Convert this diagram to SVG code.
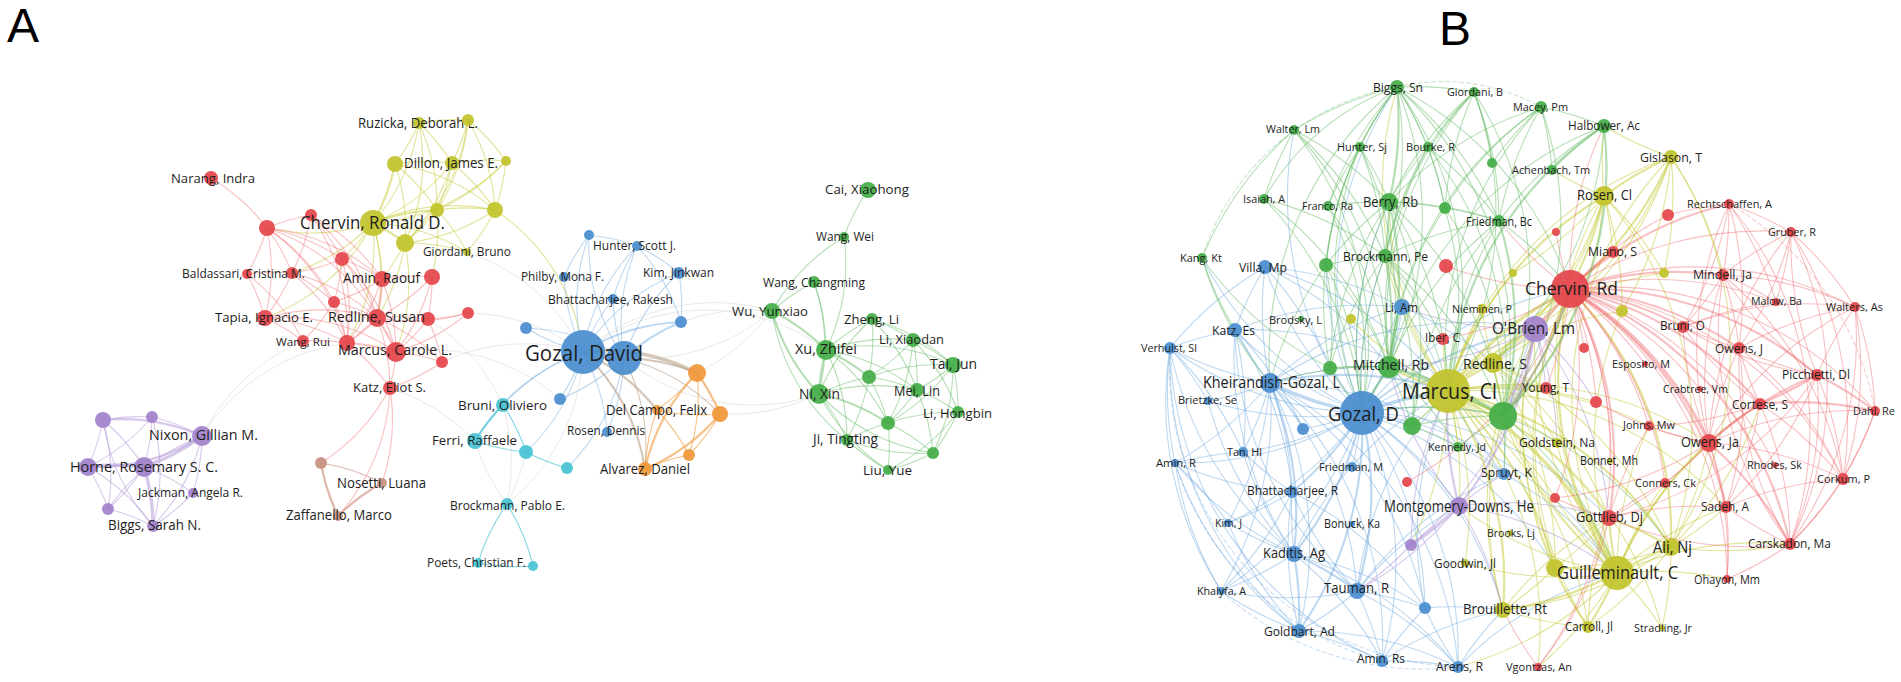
<svg xmlns="http://www.w3.org/2000/svg" width="1901" height="682" viewBox="0 0 1901 682">
<style>
path{fill:none;stroke-width:1.1;stroke-linecap:round}
.y{stroke:#c6ca34;stroke-opacity:.5}
.r{stroke:#ef6a6d;stroke-opacity:.42}
.p{stroke:#b093d6;stroke-opacity:.5}
.s{stroke:#cf9a88;stroke-opacity:.7}
.b{stroke:#64a3dc;stroke-opacity:.42}
.o{stroke:#f2a24c;stroke-opacity:.65}
.c{stroke:#4fc4d4;stroke-opacity:.7}
.g{stroke:#66ba66;stroke-opacity:.48}
.f{stroke:#c0c0c0;stroke-opacity:.45;stroke-width:.8}
.u{stroke:#b9a088;stroke-opacity:.6}
.w{stroke-width:2.2}
.x{stroke-width:3.4}
.d{stroke-dasharray:4 3;stroke-opacity:.35}
circle{fill-opacity:.93}
.ny{fill:#c2c42c}.nr{fill:#e4464b}.np{fill:#a282cc}.ns{fill:#c79282}.nb{fill:#4a8ecf}.no{fill:#f0983a}.nc{fill:#49c3d4}.ng{fill:#44ad46}
text{font-family:"Open Sans","Liberation Sans",Arial,sans-serif;fill:#1e1e1e}
.pl{font-family:"Liberation Sans",Arial,sans-serif;font-size:48px;fill:#000}
</style>
<rect width="1901" height="682" fill="#fff"/>
<text class="pl" x="7" y="42">A</text>
<text class="pl" x="1439" y="45">B</text>
<g id="connectors">
<g id="edges-a">
<path class="y" d="M419 123A200 200 0 0 1 468 120"/>
<path class="y" d="M419 123A200 200 0 0 1 395 164"/>
<path class="y" d="M419 123A200 200 0 0 1 452 163"/>
<path class="y" d="M419 123A200 200 0 0 1 373 223"/>
<path class="y" d="M419 123A200 200 0 0 1 437 210"/>
<path class="y" d="M419 123A200 200 0 0 1 405 243"/>
<path class="y" d="M468 120A200 200 0 0 1 452 163"/>
<path class="y" d="M468 120A200 200 0 0 1 506 161"/>
<path class="y" d="M468 120A200 200 0 0 1 437 210"/>
<path class="y" d="M468 120A200 200 0 0 1 495 210"/>
<path class="y" d="M468 120A200 200 0 0 1 405 243"/>
<path class="y" d="M395 164A200 200 0 0 1 452 163"/>
<path class="y w" d="M395 164A200 200 0 0 1 373 223"/>
<path class="y" d="M395 164A200 200 0 0 1 437 210"/>
<path class="y" d="M395 164A200 200 0 0 1 405 243"/>
<path class="y" d="M395 164A200 200 0 0 1 495 210"/>
<path class="y" d="M452 163A200 200 0 0 1 506 161"/>
<path class="y" d="M452 163A200 200 0 0 1 437 210"/>
<path class="y" d="M452 163A200 200 0 0 1 373 223"/>
<path class="y" d="M452 163A200 200 0 0 1 405 243"/>
<path class="y" d="M452 163A200 200 0 0 1 495 210"/>
<path class="y" d="M506 161A200 200 0 0 1 495 210"/>
<path class="y" d="M506 161A200 200 0 0 1 437 210"/>
<path class="y" d="M506 161A200 200 0 0 1 373 223"/>
<path class="y w" d="M373 223A200 200 0 0 1 437 210"/>
<path class="y w" d="M373 223A200 200 0 0 1 405 243"/>
<path class="y" d="M373 223A200 200 0 0 1 495 210"/>
<path class="y" d="M437 210A200 200 0 0 1 405 243"/>
<path class="y" d="M437 210A200 200 0 0 1 495 210"/>
<path class="y" d="M495 210A200 200 0 0 1 405 243"/>
<path class="y" d="M405 243A200 200 0 0 1 467 252"/>
<path class="y" d="M373 223A200 200 0 0 1 467 252"/>
<path class="y" d="M437 210A200 200 0 0 1 467 252"/>
<path class="y" d="M495 210A200 200 0 0 1 467 252"/>
<path class="y" d="M373 223A200 200 0 0 1 382 279"/>
<path class="y" d="M373 223A200 200 0 0 1 377 318"/>
<path class="y" d="M373 223A200 200 0 0 1 347 343"/>
<path class="y" d="M373 223A200 200 0 0 1 267 228"/>
<path class="y" d="M373 223A200 200 0 0 1 342 259"/>
<path class="y" d="M405 243A200 200 0 0 1 382 279"/>
<path class="y" d="M405 243A200 200 0 0 1 377 318"/>
<path class="y" d="M373 223A200 200 0 0 1 265 318"/>
<path class="y" d="M373 223A200 200 0 0 1 292 273"/>
<path class="y" d="M405 243A200 200 0 0 1 396 352"/>
<path class="y" d="M437 210A200 200 0 0 1 432 277"/>
<path class="y" d="M495 210A200 200 0 0 1 583 352"/>
<path class="f" d="M467 252A200 200 0 0 1 583 352"/>
<path class="r" d="M211 178A200 200 0 0 1 267 228"/>
<path class="r" d="M267 228A200 200 0 0 1 311 215"/>
<path class="r" d="M267 228A200 200 0 0 1 342 259"/>
<path class="r" d="M267 228A200 200 0 0 1 247 274"/>
<path class="r" d="M267 228A200 200 0 0 1 292 273"/>
<path class="r" d="M267 228A200 200 0 0 1 382 279"/>
<path class="r" d="M267 228A200 200 0 0 1 334 302"/>
<path class="r" d="M267 228A200 200 0 0 1 265 318"/>
<path class="r" d="M267 228A200 200 0 0 1 377 318"/>
<path class="r" d="M267 228A200 200 0 0 1 347 343"/>
<path class="r" d="M311 215A200 200 0 0 1 342 259"/>
<path class="r" d="M311 215A200 200 0 0 1 382 279"/>
<path class="r" d="M311 215A200 200 0 0 1 377 318"/>
<path class="r" d="M311 215A200 200 0 0 1 292 273"/>
<path class="r" d="M311 215A200 200 0 0 1 347 343"/>
<path class="r" d="M342 259A200 200 0 0 1 382 279"/>
<path class="r" d="M342 259A200 200 0 0 1 334 302"/>
<path class="r" d="M342 259A200 200 0 0 1 377 318"/>
<path class="r" d="M342 259A200 200 0 0 1 347 343"/>
<path class="r" d="M342 259A200 200 0 0 1 396 352"/>
<path class="r" d="M342 259A200 200 0 0 1 292 273"/>
<path class="r" d="M247 274A200 200 0 0 1 292 273"/>
<path class="r" d="M247 274A200 200 0 0 1 265 318"/>
<path class="r" d="M247 274A200 200 0 0 1 303 341"/>
<path class="r" d="M292 273A200 200 0 0 1 334 302"/>
<path class="r" d="M292 273A200 200 0 0 1 265 318"/>
<path class="r" d="M292 273A200 200 0 0 1 377 318"/>
<path class="r" d="M292 273A200 200 0 0 1 347 343"/>
<path class="r" d="M382 279A200 200 0 0 1 432 277"/>
<path class="r w" d="M382 279A200 200 0 0 1 377 318"/>
<path class="r" d="M382 279A200 200 0 0 1 347 343"/>
<path class="r" d="M382 279A200 200 0 0 1 396 352"/>
<path class="r" d="M382 279A200 200 0 0 1 334 302"/>
<path class="r" d="M432 277A200 200 0 0 1 428 319"/>
<path class="r" d="M432 277A200 200 0 0 1 377 318"/>
<path class="r" d="M432 277A200 200 0 0 1 396 352"/>
<path class="r" d="M334 302A200 200 0 0 1 377 318"/>
<path class="r" d="M334 302A200 200 0 0 1 347 343"/>
<path class="r" d="M334 302A200 200 0 0 1 303 341"/>
<path class="r" d="M265 318A200 200 0 0 1 377 318"/>
<path class="r" d="M265 318A200 200 0 0 1 303 341"/>
<path class="r" d="M265 318A200 200 0 0 1 347 343"/>
<path class="r" d="M265 318A200 200 0 0 1 396 352"/>
<path class="r" d="M377 318A200 200 0 0 1 428 319"/>
<path class="r w" d="M377 318A200 200 0 0 1 347 343"/>
<path class="r w" d="M377 318A200 200 0 0 1 396 352"/>
<path class="r" d="M377 318A200 200 0 0 1 442 362"/>
<path class="r" d="M377 318A200 200 0 0 1 390 388"/>
<path class="r" d="M428 319A200 200 0 0 1 396 352"/>
<path class="r" d="M428 319A200 200 0 0 1 442 362"/>
<path class="r" d="M468 313A200 200 0 0 1 396 352"/>
<path class="r" d="M468 313A200 200 0 0 1 377 318"/>
<path class="r" d="M468 313A200 200 0 0 1 428 319"/>
<path class="r" d="M303 341A200 200 0 0 1 347 343"/>
<path class="r w" d="M347 343A200 200 0 0 1 396 352"/>
<path class="r" d="M347 343A200 200 0 0 1 390 388"/>
<path class="r" d="M396 352A200 200 0 0 1 442 362"/>
<path class="r" d="M396 352A200 200 0 0 1 390 388"/>
<path class="r" d="M442 362A200 200 0 0 1 390 388"/>
<path class="r" d="M390 388A200 200 0 0 1 321 463"/>
<path class="r" d="M390 388A200 200 0 0 1 338 516"/>
<path class="r" d="M390 388A200 200 0 0 1 382 483"/>
<path class="f" d="M303 341A200 200 0 0 0 202 436"/>
<path class="f" d="M347 343A200 200 0 0 0 202 436"/>
<path class="f" d="M442 362A200 200 0 0 1 583 352"/>
<path class="f" d="M468 313A200 200 0 0 1 583 352"/>
<path class="f" d="M428 319A200 200 0 0 1 503 405"/>
<path class="f" d="M390 388A200 200 0 0 1 475 441"/>
<path class="f" d="M396 352A200 200 0 0 1 560 399"/>
<path class="p" d="M103 420A200 200 0 0 1 152 417"/>
<path class="p w" d="M103 420A200 200 0 0 1 202 436"/>
<path class="p" d="M103 420A200 200 0 0 1 88 467"/>
<path class="p" d="M103 420A200 200 0 0 1 144 467"/>
<path class="p" d="M103 420A200 200 0 0 1 108 509"/>
<path class="p" d="M152 417A200 200 0 0 1 202 436"/>
<path class="p" d="M152 417A200 200 0 0 1 144 467"/>
<path class="p" d="M152 417A200 200 0 0 1 88 467"/>
<path class="p w" d="M202 436A200 200 0 0 1 88 467"/>
<path class="p x" d="M202 436A200 200 0 0 1 144 467"/>
<path class="p" d="M202 436A200 200 0 0 1 193 493"/>
<path class="p" d="M202 436A200 200 0 0 1 153 526"/>
<path class="p x" d="M88 467A200 200 0 0 1 144 467"/>
<path class="p" d="M88 467A200 200 0 0 1 108 509"/>
<path class="p" d="M88 467A200 200 0 0 1 153 526"/>
<path class="p" d="M144 467A200 200 0 0 1 193 493"/>
<path class="p" d="M144 467A200 200 0 0 1 108 509"/>
<path class="p x" d="M144 467A200 200 0 0 1 153 526"/>
<path class="p" d="M193 493A200 200 0 0 1 153 526"/>
<path class="p" d="M108 509A200 200 0 0 1 153 526"/>
<path class="p" d="M152 417A200 200 0 0 1 153 526"/>
<path class="p" d="M103 420A200 200 0 0 0 153 526"/>
<path class="p" d="M108 509A200 200 0 0 1 202 436"/>
<path class="s w" d="M321 463A200 200 0 0 0 338 516"/>
<path class="s w" d="M338 516A200 200 0 0 1 382 483"/>
<path class="s" d="M321 463A200 200 0 0 1 382 483"/>
<path class="b" d="M583 352A200 200 0 0 1 589 235"/>
<path class="b" d="M583 352A200 200 0 0 1 637 246"/>
<path class="b" d="M583 352A200 200 0 0 1 679 273"/>
<path class="b" d="M583 352A200 200 0 0 1 564 277"/>
<path class="b" d="M583 352A200 200 0 0 1 613 299"/>
<path class="b" d="M583 352A200 200 0 0 1 526 328"/>
<path class="b w" d="M583 352A200 200 0 0 1 681 322"/>
<path class="b x" d="M583 352A200 200 0 0 1 624 358"/>
<path class="b" d="M583 352A200 200 0 0 1 560 399"/>
<path class="b" d="M583 352A200 200 0 0 1 607 432"/>
<path class="b" d="M624 358A200 200 0 0 1 589 235"/>
<path class="b" d="M624 358A200 200 0 0 1 637 246"/>
<path class="b" d="M624 358A200 200 0 0 1 679 273"/>
<path class="b w" d="M624 358A200 200 0 0 1 681 322"/>
<path class="b" d="M624 358A200 200 0 0 1 613 299"/>
<path class="b" d="M624 358A200 200 0 0 1 560 399"/>
<path class="b" d="M624 358A200 200 0 0 1 607 432"/>
<path class="b" d="M564 277A200 200 0 0 1 589 235"/>
<path class="b" d="M637 246A200 200 0 0 1 679 273"/>
<path class="b" d="M589 235A200 200 0 0 1 637 246"/>
<path class="b" d="M613 299A200 200 0 0 1 637 246"/>
<path class="b" d="M526 328A200 200 0 0 1 624 358"/>
<path class="b" d="M681 322A200 200 0 0 0 637 246"/>
<path class="b" d="M679 273A200 200 0 0 1 681 322"/>
<path class="b" d="M583 352A200 200 0 0 0 503 405"/>
<path class="b" d="M583 352A200 200 0 0 0 475 441"/>
<path class="b" d="M583 352A200 200 0 0 1 526 452"/>
<path class="b" d="M624 358A200 200 0 0 1 567 468"/>
<path class="f" d="M583 352A200 200 0 0 1 507 504"/>
<path class="u x" d="M583 352A200 200 0 0 1 697 373"/>
<path class="u w" d="M624 358A200 200 0 0 1 697 373"/>
<path class="u" d="M624 358A200 200 0 0 1 720 414"/>
<path class="u w" d="M583 352A200 200 0 0 1 657 410"/>
<path class="u w" d="M583 352A200 200 0 0 1 645 469"/>
<path class="u" d="M624 358A200 200 0 0 1 645 469"/>
<path class="o w" d="M697 373A200 200 0 0 1 720 414"/>
<path class="o" d="M697 373A200 200 0 0 1 657 410"/>
<path class="o w" d="M697 373A200 200 0 0 0 645 469"/>
<path class="o" d="M697 373A200 200 0 0 1 689 455"/>
<path class="o" d="M720 414A200 200 0 0 1 657 410"/>
<path class="o w" d="M720 414A200 200 0 0 1 645 469"/>
<path class="o" d="M720 414A200 200 0 0 1 689 455"/>
<path class="o" d="M657 410A200 200 0 0 0 645 469"/>
<path class="o" d="M657 410A200 200 0 0 1 689 455"/>
<path class="o" d="M645 469A200 200 0 0 1 689 455"/>
<path class="c w" d="M503 405A200 200 0 0 0 475 441"/>
<path class="c" d="M475 441A200 200 0 0 0 526 452"/>
<path class="c" d="M526 452A200 200 0 0 0 567 468"/>
<path class="c" d="M503 405A200 200 0 0 1 526 452"/>
<path class="c" d="M507 504A200 200 0 0 0 478 563"/>
<path class="c" d="M507 504A200 200 0 0 1 533 566"/>
<path class="c" d="M478 563A200 200 0 0 0 533 566"/>
<path class="f" d="M475 441A200 200 0 0 0 507 504"/>
<path class="f" d="M503 405A200 200 0 0 1 507 504"/>
<path class="f" d="M526 452A200 200 0 0 1 507 504"/>
<path class="g" d="M868 190A200 200 0 0 0 844 237"/>
<path class="g" d="M844 237A200 200 0 0 1 826 350"/>
<path class="g" d="M844 237A200 200 0 0 0 772 311"/>
<path class="g" d="M814 282A200 200 0 0 0 772 311"/>
<path class="g" d="M814 282A200 200 0 0 1 826 350"/>
<path class="g" d="M814 282A200 200 0 0 1 819 394"/>
<path class="g w" d="M772 311A200 200 0 0 1 826 350"/>
<path class="g w" d="M772 311A200 200 0 0 0 819 394"/>
<path class="g" d="M772 311A200 200 0 0 0 847 440"/>
<path class="g" d="M872 319A200 200 0 0 1 913 340"/>
<path class="g" d="M872 319A200 200 0 0 0 826 350"/>
<path class="g" d="M872 319A200 200 0 0 1 869 377"/>
<path class="g" d="M872 319A200 200 0 0 1 917 390"/>
<path class="g" d="M872 319A200 200 0 0 1 953 365"/>
<path class="g" d="M872 319A200 200 0 0 0 819 394"/>
<path class="g" d="M913 340A200 200 0 0 0 826 350"/>
<path class="g" d="M913 340A200 200 0 0 1 953 365"/>
<path class="g" d="M913 340A200 200 0 0 1 869 377"/>
<path class="g" d="M913 340A200 200 0 0 1 917 390"/>
<path class="g" d="M913 340A200 200 0 0 1 888 423"/>
<path class="g w" d="M826 350A200 200 0 0 1 869 377"/>
<path class="g" d="M826 350A200 200 0 0 1 917 390"/>
<path class="g w" d="M826 350A200 200 0 0 0 819 394"/>
<path class="g" d="M826 350A200 200 0 0 1 888 423"/>
<path class="g" d="M826 350A200 200 0 0 1 847 440"/>
<path class="g" d="M826 350A200 200 0 0 1 953 365"/>
<path class="g" d="M953 365A200 200 0 0 0 869 377"/>
<path class="g" d="M953 365A200 200 0 0 1 917 390"/>
<path class="g" d="M953 365A200 200 0 0 1 958 412"/>
<path class="g" d="M953 365A200 200 0 0 1 888 423"/>
<path class="g" d="M953 365A200 200 0 0 1 933 453"/>
<path class="g" d="M869 377A200 200 0 0 1 917 390"/>
<path class="g" d="M869 377A200 200 0 0 0 819 394"/>
<path class="g" d="M869 377A200 200 0 0 1 888 423"/>
<path class="g" d="M869 377A200 200 0 0 1 847 440"/>
<path class="g" d="M917 390A200 200 0 0 0 819 394"/>
<path class="g" d="M917 390A200 200 0 0 1 958 412"/>
<path class="g" d="M917 390A200 200 0 0 1 888 423"/>
<path class="g" d="M917 390A200 200 0 0 1 933 453"/>
<path class="g w" d="M819 394A200 200 0 0 1 888 423"/>
<path class="g" d="M819 394A200 200 0 0 1 847 440"/>
<path class="g" d="M819 394A200 200 0 0 0 888 470"/>
<path class="g" d="M958 412A200 200 0 0 0 888 423"/>
<path class="g" d="M958 412A200 200 0 0 1 933 453"/>
<path class="g" d="M888 423A200 200 0 0 0 847 440"/>
<path class="g" d="M888 423A200 200 0 0 1 933 453"/>
<path class="g" d="M888 423A200 200 0 0 1 888 470"/>
<path class="g" d="M847 440A200 200 0 0 0 888 470"/>
<path class="g" d="M933 453A200 200 0 0 1 888 470"/>
<path class="g" d="M847 440A200 200 0 0 0 933 453"/>
<path class="g" d="M958 412A200 200 0 0 1 888 470"/>
<path class="g" d="M913 340A200 200 0 0 1 958 412"/>
<path class="g" d="M819 394A200 200 0 0 0 933 453"/>
<path class="f" d="M772 311A200 200 0 0 0 583 352"/>
<path class="f" d="M772 311A200 200 0 0 1 624 358"/>
<path class="f" d="M826 350A200 200 0 0 0 583 352"/>
<path class="f" d="M819 394A200 200 0 0 1 624 358"/>
<path class="f" d="M772 311A200 200 0 0 1 697 373"/>
<path class="f" d="M819 394A200 200 0 0 1 720 414"/>
<path class="f" d="M772 311A200 200 0 0 0 681 322"/>
</g>
<g id="edges-b">
<path class="b" d="M1362 413A350 350 0 0 1 1265 267"/>
<path class="b" d="M1362 413A350 350 0 0 1 1402 307"/>
<path class="b" d="M1362 413A350 350 0 0 1 1235 330"/>
<path class="b" d="M1362 413A350 350 0 0 1 1170 348"/>
<path class="b x" d="M1362 413A350 350 0 0 1 1270 383"/>
<path class="b" d="M1362 413A350 350 0 0 1 1208 401"/>
<path class="b" d="M1362 413A350 350 0 0 1 1303 429"/>
<path class="b" d="M1362 413A350 350 0 0 1 1243 452"/>
<path class="b" d="M1362 413A350 350 0 0 1 1504 474"/>
<path class="b" d="M1362 413A350 350 0 0 1 1175 463"/>
<path class="b" d="M1362 413A350 350 0 0 1 1352 467"/>
<path class="b w" d="M1362 413A350 350 0 0 1 1292 492"/>
<path class="b" d="M1362 413A350 350 0 0 1 1228 523"/>
<path class="b w" d="M1362 413A350 350 0 0 1 1294 554"/>
<path class="b" d="M1362 413A350 350 0 0 1 1221 591"/>
<path class="b w" d="M1362 413A350 350 0 0 1 1357 591"/>
<path class="b" d="M1362 413A350 350 0 0 1 1425 608"/>
<path class="b w" d="M1362 413A350 350 0 0 1 1299 631"/>
<path class="b" d="M1362 413A350 350 0 0 1 1382 661"/>
<path class="b" d="M1362 413A350 350 0 0 1 1458 667"/>
<path class="b x" d="M1362 413A350 350 0 0 1 1448 391"/>
<path class="b w" d="M1362 413A350 350 0 0 1 1535 329"/>
<path class="b" d="M1362 413A350 350 0 0 1 1459 506"/>
<path class="b w" d="M1362 413A350 350 0 0 1 1389 367"/>
<path class="b" d="M1362 413A350 350 0 0 1 1503 416"/>
<path class="b" d="M1362 413A350 350 0 0 1 1412 426"/>
<path class="b" d="M1362 413A350 350 0 0 1 1570 289"/>
<path class="b" d="M1362 413A350 350 0 0 1 1617 573"/>
<path class="b" d="M1362 413A350 350 0 0 1 1503 610"/>
<path class="b" d="M1362 413A350 350 0 0 1 1493 363"/>
<path class="b" d="M1362 413A350 350 0 0 1 1385 256"/>
<path class="b" d="M1362 413A350 350 0 0 1 1389 202"/>
<path class="b" d="M1362 413A350 350 0 0 1 1326 265"/>
<path class="b" d="M1362 413A350 350 0 0 1 1330 368"/>
<path class="b" d="M1362 413A350 350 0 0 1 1555 568"/>
<path class="b" d="M1362 413A350 350 0 0 1 1609 518"/>
<path class="b" d="M1362 413A350 350 0 0 1 1397 87"/>
<path class="b" d="M1362 413A350 350 0 0 1 1294 130"/>
<path class="b" d="M1362 413A350 350 0 0 1 1202 258"/>
<path class="b" d="M1270 383A350 350 0 0 1 1235 330"/>
<path class="b" d="M1270 383A350 350 0 0 1 1170 348"/>
<path class="b" d="M1270 383A350 350 0 0 1 1208 401"/>
<path class="b" d="M1270 383A350 350 0 0 1 1303 429"/>
<path class="b" d="M1270 383A350 350 0 0 1 1243 452"/>
<path class="b" d="M1270 383A350 350 0 0 1 1175 463"/>
<path class="b" d="M1270 383A350 350 0 0 1 1292 492"/>
<path class="b" d="M1270 383A350 350 0 0 1 1228 523"/>
<path class="b w" d="M1270 383A350 350 0 0 1 1294 554"/>
<path class="b" d="M1270 383A350 350 0 0 1 1221 591"/>
<path class="b" d="M1270 383A350 350 0 0 1 1357 591"/>
<path class="b" d="M1270 383A350 350 0 0 1 1299 631"/>
<path class="b" d="M1270 383A350 350 0 0 1 1382 661"/>
<path class="b" d="M1270 383A350 350 0 0 1 1458 667"/>
<path class="b" d="M1270 383A350 350 0 0 1 1265 267"/>
<path class="b" d="M1270 383A350 350 0 0 1 1402 307"/>
<path class="b w" d="M1270 383A350 350 0 0 1 1448 391"/>
<path class="b" d="M1270 383A350 350 0 0 1 1504 474"/>
<path class="b" d="M1270 383A350 350 0 0 1 1389 367"/>
<path class="b" d="M1270 383A350 350 0 0 1 1535 329"/>
<path class="b" d="M1270 383A350 350 0 0 1 1425 608"/>
<path class="b" d="M1294 554A350 350 0 0 1 1170 348"/>
<path class="b" d="M1294 554A350 350 0 0 1 1175 463"/>
<path class="b" d="M1294 554A350 350 0 0 1 1221 591"/>
<path class="b w" d="M1294 554A350 350 0 0 1 1357 591"/>
<path class="b w" d="M1294 554A350 350 0 0 1 1299 631"/>
<path class="b" d="M1294 554A350 350 0 0 1 1382 661"/>
<path class="b" d="M1294 554A350 350 0 0 1 1458 667"/>
<path class="b" d="M1294 554A350 350 0 0 1 1292 492"/>
<path class="b" d="M1294 554A350 350 0 0 1 1228 523"/>
<path class="b" d="M1294 554A350 350 0 0 1 1235 330"/>
<path class="b" d="M1294 554A350 350 0 0 1 1448 391"/>
<path class="b" d="M1294 554A350 350 0 0 1 1208 401"/>
<path class="b" d="M1294 554A350 350 0 0 1 1425 608"/>
<path class="b" d="M1294 554A350 350 0 0 1 1243 452"/>
<path class="b" d="M1357 591A350 350 0 0 1 1299 631"/>
<path class="b" d="M1357 591A350 350 0 0 1 1382 661"/>
<path class="b" d="M1357 591A350 350 0 0 1 1458 667"/>
<path class="b" d="M1357 591A350 350 0 0 1 1292 492"/>
<path class="b" d="M1357 591A350 350 0 0 1 1425 608"/>
<path class="b" d="M1357 591A350 350 0 0 1 1221 591"/>
<path class="b" d="M1357 591A350 350 0 0 1 1448 391"/>
<path class="b" d="M1357 591A350 350 0 0 1 1459 506"/>
<path class="b" d="M1357 591A350 350 0 0 1 1504 474"/>
<path class="b" d="M1357 591A350 350 0 0 1 1235 330"/>
<path class="b" d="M1299 631A350 350 0 0 1 1382 661"/>
<path class="b" d="M1299 631A350 350 0 0 1 1458 667"/>
<path class="b" d="M1299 631A350 350 0 0 1 1221 591"/>
<path class="b" d="M1299 631A350 350 0 0 1 1175 463"/>
<path class="b" d="M1299 631A350 350 0 0 1 1170 348"/>
<path class="b" d="M1299 631A350 350 0 0 1 1292 492"/>
<path class="b" d="M1299 631A350 350 0 0 1 1228 523"/>
<path class="b" d="M1170 348A350 350 0 0 1 1235 330"/>
<path class="b" d="M1170 348A350 350 0 0 1 1265 267"/>
<path class="b" d="M1170 348A350 350 0 0 0 1175 463"/>
<path class="b" d="M1170 348A350 350 0 0 1 1208 401"/>
<path class="b" d="M1170 348A350 350 0 0 0 1221 591"/>
<path class="b" d="M1170 348A350 350 0 0 0 1382 661"/>
<path class="b d" d="M1170 348A300 300 0 0 0 1458 667"/>
<path class="b" d="M1170 348A350 350 0 0 1 1243 452"/>
<path class="b" d="M1235 330A350 350 0 0 1 1265 267"/>
<path class="b" d="M1235 330A350 350 0 0 1 1402 307"/>
<path class="b" d="M1235 330A350 350 0 0 1 1448 391"/>
<path class="b" d="M1235 330A350 350 0 0 1 1292 492"/>
<path class="b" d="M1235 330A350 350 0 0 1 1303 429"/>
<path class="b" d="M1235 330A350 350 0 0 1 1243 452"/>
<path class="b" d="M1265 267A350 350 0 0 1 1402 307"/>
<path class="b" d="M1265 267A350 350 0 0 1 1448 391"/>
<path class="b" d="M1265 267A350 350 0 0 1 1389 367"/>
<path class="b" d="M1265 267A350 350 0 0 1 1330 368"/>
<path class="b" d="M1382 661A350 350 0 0 1 1458 667"/>
<path class="b" d="M1382 661A350 350 0 0 1 1425 608"/>
<path class="b" d="M1382 661A350 350 0 0 1 1503 610"/>
<path class="b" d="M1458 667A350 350 0 0 1 1425 608"/>
<path class="b" d="M1458 667A350 350 0 0 1 1503 610"/>
<path class="b" d="M1458 667A350 350 0 0 1 1617 573"/>
<path class="b" d="M1292 492A350 350 0 0 1 1228 523"/>
<path class="b" d="M1292 492A350 350 0 0 1 1243 452"/>
<path class="b" d="M1292 492A350 350 0 0 1 1175 463"/>
<path class="b" d="M1292 492A350 350 0 0 1 1221 591"/>
<path class="b" d="M1292 492A350 350 0 0 1 1425 608"/>
<path class="b" d="M1175 463A350 350 0 0 1 1228 523"/>
<path class="b" d="M1175 463A350 350 0 0 0 1221 591"/>
<path class="b" d="M1175 463A350 350 0 0 1 1243 452"/>
<path class="b" d="M1402 307A350 350 0 0 1 1389 367"/>
<path class="b" d="M1402 307A350 350 0 0 1 1448 391"/>
<path class="b" d="M1402 307A350 350 0 0 1 1493 363"/>
<path class="b" d="M1504 474A350 350 0 0 1 1448 391"/>
<path class="b" d="M1504 474A350 350 0 0 1 1617 573"/>
<path class="b" d="M1504 474A350 350 0 0 1 1535 329"/>
<path class="b" d="M1425 608A350 350 0 0 1 1448 391"/>
<path class="b" d="M1425 608A350 350 0 0 1 1503 610"/>
<path class="b d" d="M1175 463A300 300 0 0 0 1382 661"/>
<path class="b d" d="M1221 591A300 300 0 0 0 1458 667"/>
<path class="y w" d="M1448 391A350 350 0 0 1 1493 363"/>
<path class="y x" d="M1448 391A350 350 0 0 1 1617 573"/>
<path class="y w" d="M1448 391A350 350 0 0 1 1555 568"/>
<path class="y w" d="M1448 391A350 350 0 0 1 1671 547"/>
<path class="y w" d="M1448 391A350 350 0 0 1 1503 610"/>
<path class="y" d="M1448 391A350 350 0 0 1 1588 627"/>
<path class="y" d="M1448 391A350 350 0 0 1 1557 443"/>
<path class="y" d="M1448 391A350 350 0 0 1 1465 563"/>
<path class="y w" d="M1448 391A350 350 0 0 1 1604 196"/>
<path class="y" d="M1448 391A350 350 0 0 1 1671 157"/>
<path class="y" d="M1448 391A350 350 0 0 1 1622 311"/>
<path class="y" d="M1448 391A350 350 0 0 1 1482 309"/>
<path class="y" d="M1448 391A350 350 0 0 1 1513 273"/>
<path class="y" d="M1448 391A350 350 0 0 1 1664 273"/>
<path class="y x" d="M1448 391A350 350 0 0 1 1570 289"/>
<path class="y w" d="M1448 391A350 350 0 0 1 1535 329"/>
<path class="y w" d="M1448 391A350 350 0 0 1 1503 416"/>
<path class="y w" d="M1448 391A350 350 0 0 1 1389 367"/>
<path class="y" d="M1448 391A350 350 0 0 1 1412 426"/>
<path class="y" d="M1448 391A350 350 0 0 1 1459 506"/>
<path class="y" d="M1448 391A350 350 0 0 1 1609 518"/>
<path class="y" d="M1448 391A350 350 0 0 1 1709 443"/>
<path class="y" d="M1448 391A350 350 0 0 1 1546 388"/>
<path class="y" d="M1448 391A350 350 0 0 1 1596 402"/>
<path class="y" d="M1448 391A350 350 0 0 1 1389 202"/>
<path class="y" d="M1448 391A350 350 0 0 1 1385 256"/>
<path class="y" d="M1448 391A350 350 0 0 1 1504 474"/>
<path class="y" d="M1448 391A350 350 0 0 1 1458 447"/>
<path class="y" d="M1448 391A350 350 0 0 1 1555 498"/>
<path class="y" d="M1448 391A350 350 0 0 1 1662 628"/>
<path class="y" d="M1448 391A350 350 0 0 1 1538 667"/>
<path class="y" d="M1448 391A350 350 0 0 1 1443 339"/>
<path class="y" d="M1448 391A350 350 0 0 1 1397 87"/>
<path class="y" d="M1448 391A350 350 0 0 1 1351 319"/>
<path class="y" d="M1448 391A350 350 0 0 1 1411 545"/>
<path class="y" d="M1448 391A350 350 0 0 1 1726 507"/>
<path class="y" d="M1448 391A350 350 0 0 1 1649 426"/>
<path class="y w" d="M1617 573A350 350 0 0 0 1555 568"/>
<path class="y w" d="M1617 573A350 350 0 0 1 1671 547"/>
<path class="y w" d="M1617 573A350 350 0 0 1 1503 610"/>
<path class="y w" d="M1617 573A350 350 0 0 1 1588 627"/>
<path class="y" d="M1617 573A350 350 0 0 1 1662 628"/>
<path class="y w" d="M1617 573A350 350 0 0 1 1609 518"/>
<path class="y w" d="M1617 573A350 350 0 0 1 1709 443"/>
<path class="y" d="M1617 573A350 350 0 0 1 1726 507"/>
<path class="y" d="M1617 573A350 350 0 0 1 1665 483"/>
<path class="y" d="M1617 573A350 350 0 0 1 1790 544"/>
<path class="y" d="M1617 573A350 350 0 0 1 1727 579"/>
<path class="y" d="M1617 573A350 350 0 0 1 1604 196"/>
<path class="y" d="M1617 573A350 350 0 0 1 1671 157"/>
<path class="y w" d="M1617 573A350 350 0 0 1 1570 289"/>
<path class="y" d="M1617 573A350 350 0 0 1 1493 363"/>
<path class="y" d="M1617 573A350 350 0 0 1 1535 329"/>
<path class="y" d="M1617 573A350 350 0 0 1 1458 667"/>
<path class="y" d="M1617 573A350 350 0 0 1 1555 498"/>
<path class="y" d="M1617 573A350 350 0 0 1 1465 563"/>
<path class="y" d="M1617 573A350 350 0 0 1 1649 426"/>
<path class="y" d="M1617 573A350 350 0 0 1 1538 667"/>
<path class="y" d="M1617 573A350 350 0 0 1 1557 443"/>
<path class="y" d="M1617 573A350 350 0 0 1 1503 416"/>
<path class="y" d="M1617 573A350 350 0 0 1 1459 506"/>
<path class="y" d="M1617 573A350 350 0 0 1 1760 404"/>
<path class="y" d="M1617 573A350 350 0 0 1 1622 311"/>
<path class="y w" d="M1604 196A350 350 0 0 1 1671 157"/>
<path class="y" d="M1604 196A350 350 0 0 1 1664 273"/>
<path class="y" d="M1604 196A350 350 0 0 1 1622 311"/>
<path class="y w" d="M1604 196A350 350 0 0 1 1570 289"/>
<path class="y" d="M1604 196A350 350 0 0 1 1493 363"/>
<path class="y" d="M1604 196A350 350 0 0 1 1513 273"/>
<path class="y" d="M1604 196A350 350 0 0 1 1613 252"/>
<path class="y" d="M1604 196A350 350 0 0 1 1604 126"/>
<path class="y" d="M1604 196A350 350 0 0 1 1552 170"/>
<path class="y" d="M1604 196A350 350 0 0 1 1671 547"/>
<path class="y" d="M1604 196A350 350 0 0 1 1535 329"/>
<path class="y" d="M1604 196A350 350 0 0 1 1503 416"/>
<path class="y" d="M1671 157A350 350 0 0 1 1664 273"/>
<path class="y" d="M1671 157A350 350 0 0 1 1622 311"/>
<path class="y w" d="M1671 157A350 350 0 0 1 1570 289"/>
<path class="y" d="M1671 157A350 350 0 0 1 1493 363"/>
<path class="y" d="M1671 157A350 350 0 0 1 1604 126"/>
<path class="y" d="M1671 157A350 350 0 0 1 1723 275"/>
<path class="y" d="M1671 157A350 350 0 0 1 1671 547"/>
<path class="y" d="M1671 157A350 350 0 0 1 1535 329"/>
<path class="y w" d="M1493 363A350 350 0 0 1 1570 289"/>
<path class="y" d="M1493 363A350 350 0 0 1 1535 329"/>
<path class="y" d="M1493 363A350 350 0 0 1 1503 416"/>
<path class="y" d="M1493 363A350 350 0 0 1 1671 547"/>
<path class="y" d="M1493 363A350 350 0 0 1 1557 443"/>
<path class="y" d="M1493 363A350 350 0 0 1 1482 309"/>
<path class="y" d="M1493 363A350 350 0 0 1 1546 388"/>
<path class="y" d="M1493 363A350 350 0 0 1 1609 518"/>
<path class="y" d="M1493 363A350 350 0 0 1 1555 568"/>
<path class="y" d="M1671 547A350 350 0 0 0 1709 443"/>
<path class="y w" d="M1671 547A350 350 0 0 0 1609 518"/>
<path class="y" d="M1671 547A350 350 0 0 1 1555 568"/>
<path class="y" d="M1671 547A350 350 0 0 1 1503 610"/>
<path class="y" d="M1671 547A350 350 0 0 0 1726 507"/>
<path class="y" d="M1671 547A350 350 0 0 0 1790 544"/>
<path class="y" d="M1671 547A350 350 0 0 0 1760 404"/>
<path class="y w" d="M1671 547A350 350 0 0 0 1570 289"/>
<path class="y" d="M1671 547A350 350 0 0 1 1588 627"/>
<path class="y" d="M1671 547A350 350 0 0 1 1662 628"/>
<path class="y" d="M1555 568A350 350 0 0 1 1503 610"/>
<path class="y" d="M1555 568A350 350 0 0 0 1588 627"/>
<path class="y" d="M1555 568A350 350 0 0 0 1609 518"/>
<path class="y" d="M1555 568A350 350 0 0 1 1570 289"/>
<path class="y" d="M1555 568A350 350 0 0 1 1535 329"/>
<path class="y" d="M1503 610A350 350 0 0 0 1588 627"/>
<path class="y" d="M1503 610A350 350 0 0 1 1535 329"/>
<path class="y" d="M1503 610A350 350 0 0 1 1570 289"/>
<path class="y" d="M1503 610A350 350 0 0 1 1609 518"/>
<path class="y" d="M1588 627A350 350 0 0 1 1570 289"/>
<path class="y" d="M1588 627A350 350 0 0 1 1609 518"/>
<path class="y" d="M1588 627A350 350 0 0 1 1535 329"/>
<path class="r w" d="M1570 289A350 350 0 0 1 1729 204"/>
<path class="r" d="M1570 289A350 350 0 0 1 1668 215"/>
<path class="r" d="M1570 289A350 350 0 0 1 1556 232"/>
<path class="r" d="M1570 289A350 350 0 0 1 1791 232"/>
<path class="r w" d="M1570 289A350 350 0 0 1 1613 252"/>
<path class="r w" d="M1570 289A350 350 0 0 1 1723 275"/>
<path class="r" d="M1570 289A350 350 0 0 1 1776 302"/>
<path class="r" d="M1570 289A350 350 0 0 1 1855 307"/>
<path class="r w" d="M1570 289A350 350 0 0 1 1683 327"/>
<path class="r w" d="M1570 289A350 350 0 0 1 1739 348"/>
<path class="r" d="M1570 289A350 350 0 0 1 1584 348"/>
<path class="r w" d="M1570 289A350 350 0 0 1 1817 375"/>
<path class="r" d="M1570 289A350 350 0 0 1 1546 388"/>
<path class="r" d="M1570 289A350 350 0 0 1 1596 402"/>
<path class="r w" d="M1570 289A350 350 0 0 1 1760 404"/>
<path class="r" d="M1570 289A350 350 0 0 1 1875 411"/>
<path class="r" d="M1570 289A350 350 0 0 1 1649 426"/>
<path class="r x" d="M1570 289A350 350 0 0 1 1709 443"/>
<path class="r" d="M1570 289A350 350 0 0 1 1665 483"/>
<path class="r" d="M1570 289A350 350 0 0 1 1843 479"/>
<path class="r" d="M1570 289A350 350 0 0 1 1555 498"/>
<path class="r w" d="M1570 289A350 350 0 0 1 1726 507"/>
<path class="r w" d="M1570 289A350 350 0 0 1 1609 518"/>
<path class="r w" d="M1570 289A350 350 0 0 1 1790 544"/>
<path class="r" d="M1570 289A350 350 0 0 1 1727 579"/>
<path class="r" d="M1570 289A350 350 0 0 1 1538 667"/>
<path class="r" d="M1570 289A350 350 0 0 1 1443 339"/>
<path class="r" d="M1570 289A350 350 0 0 1 1446 266"/>
<path class="r" d="M1570 289A350 350 0 0 1 1407 482"/>
<path class="r x" d="M1570 289A350 350 0 0 1 1535 329"/>
<path class="r w" d="M1570 289A350 350 0 0 1 1503 416"/>
<path class="r" d="M1570 289A350 350 0 0 1 1645 364"/>
<path class="r" d="M1570 289A350 350 0 0 1 1700 389"/>
<path class="r" d="M1570 289A350 350 0 0 1 1775 465"/>
<path class="r" d="M1570 289A350 350 0 0 1 1610 461"/>
<path class="r" d="M1570 289A350 350 0 0 1 1604 126"/>
<path class="r" d="M1570 289A350 350 0 0 1 1499 221"/>
<path class="r w" d="M1709 443A350 350 0 0 1 1760 404"/>
<path class="r w" d="M1709 443A350 350 0 0 1 1817 375"/>
<path class="r" d="M1709 443A350 350 0 0 1 1843 479"/>
<path class="r" d="M1709 443A350 350 0 0 1 1726 507"/>
<path class="r w" d="M1709 443A350 350 0 0 1 1790 544"/>
<path class="r" d="M1709 443A350 350 0 0 1 1739 348"/>
<path class="r" d="M1709 443A350 350 0 0 1 1683 327"/>
<path class="r" d="M1709 443A350 350 0 0 1 1723 275"/>
<path class="r" d="M1709 443A350 350 0 0 1 1729 204"/>
<path class="r" d="M1709 443A350 350 0 0 1 1791 232"/>
<path class="r" d="M1709 443A350 350 0 0 1 1875 411"/>
<path class="r" d="M1709 443A350 350 0 0 1 1665 483"/>
<path class="r" d="M1709 443A350 350 0 0 1 1649 426"/>
<path class="r" d="M1709 443A350 350 0 0 1 1727 579"/>
<path class="r" d="M1709 443A350 350 0 0 1 1609 518"/>
<path class="r" d="M1709 443A350 350 0 0 1 1855 307"/>
<path class="r" d="M1709 443A350 350 0 0 1 1555 498"/>
<path class="r" d="M1709 443A350 350 0 0 1 1596 402"/>
<path class="r w" d="M1817 375A350 350 0 0 1 1875 411"/>
<path class="r" d="M1817 375A350 350 0 0 1 1843 479"/>
<path class="r w" d="M1817 375A350 350 0 0 1 1760 404"/>
<path class="r" d="M1817 375A350 350 0 0 1 1739 348"/>
<path class="r" d="M1817 375A350 350 0 0 1 1855 307"/>
<path class="r" d="M1817 375A350 350 0 0 1 1791 232"/>
<path class="r" d="M1817 375A350 350 0 0 1 1683 327"/>
<path class="r" d="M1817 375A350 350 0 0 1 1790 544"/>
<path class="r" d="M1817 375A350 350 0 0 1 1726 507"/>
<path class="r" d="M1817 375A350 350 0 0 1 1723 275"/>
<path class="r" d="M1817 375A350 350 0 0 1 1609 518"/>
<path class="r w" d="M1760 404A350 350 0 0 1 1875 411"/>
<path class="r" d="M1760 404A350 350 0 0 1 1843 479"/>
<path class="r" d="M1760 404A350 350 0 0 1 1739 348"/>
<path class="r" d="M1760 404A350 350 0 0 1 1683 327"/>
<path class="r" d="M1760 404A350 350 0 0 1 1726 507"/>
<path class="r" d="M1760 404A350 350 0 0 1 1649 426"/>
<path class="r" d="M1760 404A350 350 0 0 1 1790 544"/>
<path class="r" d="M1790 544A350 350 0 0 0 1843 479"/>
<path class="r" d="M1790 544A350 350 0 0 1 1726 507"/>
<path class="r" d="M1790 544A350 350 0 0 1 1727 579"/>
<path class="r" d="M1790 544A350 350 0 0 0 1875 411"/>
<path class="r" d="M1790 544A350 350 0 0 0 1729 204"/>
<path class="r" d="M1790 544A350 350 0 0 0 1791 232"/>
<path class="r" d="M1790 544A350 350 0 0 1 1739 348"/>
<path class="r" d="M1790 544A350 350 0 0 1 1723 275"/>
<path class="r" d="M1790 544A350 350 0 0 1 1609 518"/>
<path class="r" d="M1790 544A350 350 0 0 0 1855 307"/>
<path class="r" d="M1729 204A350 350 0 0 1 1723 275"/>
<path class="r" d="M1729 204A350 350 0 0 1 1791 232"/>
<path class="r" d="M1729 204A350 350 0 0 1 1683 327"/>
<path class="r" d="M1729 204A350 350 0 0 1 1739 348"/>
<path class="r" d="M1729 204A350 350 0 0 0 1668 215"/>
<path class="r" d="M1729 204A350 350 0 0 1 1776 302"/>
<path class="r" d="M1723 275A350 350 0 0 1 1791 232"/>
<path class="r" d="M1723 275A350 350 0 0 1 1739 348"/>
<path class="r" d="M1723 275A350 350 0 0 1 1683 327"/>
<path class="r" d="M1723 275A350 350 0 0 1 1776 302"/>
<path class="r" d="M1723 275A350 350 0 0 1 1855 307"/>
<path class="r" d="M1723 275A350 350 0 0 1 1843 479"/>
<path class="r" d="M1791 232A350 350 0 0 1 1776 302"/>
<path class="r" d="M1791 232A350 350 0 0 1 1855 307"/>
<path class="r" d="M1791 232A350 350 0 0 1 1843 479"/>
<path class="r" d="M1791 232A350 350 0 0 1 1739 348"/>
<path class="r" d="M1739 348A350 350 0 0 1 1683 327"/>
<path class="r" d="M1739 348A350 350 0 0 1 1855 307"/>
<path class="r" d="M1739 348A350 350 0 0 1 1843 479"/>
<path class="r" d="M1739 348A350 350 0 0 1 1726 507"/>
<path class="r" d="M1609 518A350 350 0 0 1 1726 507"/>
<path class="r" d="M1609 518A350 350 0 0 1 1665 483"/>
<path class="r" d="M1609 518A350 350 0 0 1 1538 667"/>
<path class="r" d="M1609 518A350 350 0 0 1 1555 498"/>
<path class="r" d="M1609 518A350 350 0 0 1 1649 426"/>
<path class="r" d="M1855 307A350 350 0 0 1 1875 411"/>
<path class="r" d="M1855 307A350 350 0 0 1 1843 479"/>
<path class="r" d="M1875 411A350 350 0 0 1 1843 479"/>
<path class="r" d="M1726 507A350 350 0 0 1 1843 479"/>
<path class="r" d="M1726 507A350 350 0 0 1 1727 579"/>
<path class="r" d="M1683 327A350 350 0 0 1 1776 302"/>
<path class="r" d="M1683 327A350 350 0 0 1 1855 307"/>
<path class="r" d="M1538 667A350 350 0 0 1 1503 610"/>
<path class="r d" d="M1729 204A300 300 0 0 1 1875 411"/>
<path class="p w" d="M1535 329A350 350 0 0 1 1503 416"/>
<path class="p w" d="M1535 329A350 350 0 0 1 1459 506"/>
<path class="p" d="M1535 329A350 350 0 0 1 1493 363"/>
<path class="p" d="M1535 329A350 350 0 0 1 1546 388"/>
<path class="p" d="M1535 329A350 350 0 0 1 1557 443"/>
<path class="p" d="M1535 329A350 350 0 0 1 1402 307"/>
<path class="p" d="M1535 329A350 350 0 0 1 1389 367"/>
<path class="p" d="M1535 329A350 350 0 0 1 1609 518"/>
<path class="p" d="M1535 329A350 350 0 0 1 1411 545"/>
<path class="p" d="M1535 329A350 350 0 0 1 1596 402"/>
<path class="p x" d="M1459 506A350 350 0 0 1 1411 545"/>
<path class="p w" d="M1459 506A350 350 0 0 1 1448 391"/>
<path class="p" d="M1459 506A350 350 0 0 1 1617 573"/>
<path class="p" d="M1459 506A350 350 0 0 1 1357 591"/>
<path class="p" d="M1459 506A350 350 0 0 1 1503 610"/>
<path class="p" d="M1459 506A350 350 0 0 1 1609 518"/>
<path class="p" d="M1459 506A350 350 0 0 1 1504 474"/>
<path class="p" d="M1459 506A350 350 0 0 1 1389 367"/>
<path class="p" d="M1411 545A350 350 0 0 1 1448 391"/>
<path class="p" d="M1411 545A350 350 0 0 1 1357 591"/>
<path class="g" d="M1397 87A350 350 0 0 0 1294 130"/>
<path class="g" d="M1397 87A350 350 0 0 0 1360 147"/>
<path class="g" d="M1397 87A350 350 0 0 1 1428 147"/>
<path class="g w" d="M1397 87A350 350 0 0 1 1389 202"/>
<path class="g" d="M1397 87A350 350 0 0 1 1445 208"/>
<path class="g" d="M1397 87A350 350 0 0 1 1499 221"/>
<path class="g" d="M1397 87A350 350 0 0 1 1385 256"/>
<path class="g" d="M1397 87A350 350 0 0 1 1389 367"/>
<path class="g" d="M1397 87A350 350 0 0 1 1503 416"/>
<path class="g" d="M1397 87A350 350 0 0 0 1328 206"/>
<path class="g" d="M1397 87A350 350 0 0 1 1474 92"/>
<path class="g d" d="M1397 87A200 200 0 0 1 1541 107"/>
<path class="g" d="M1397 87A350 350 0 0 0 1326 265"/>
<path class="g" d="M1397 87A350 350 0 0 0 1330 368"/>
<path class="g" d="M1397 87A350 350 0 0 1 1570 289"/>
<path class="g" d="M1397 87A250 250 0 0 0 1264 199"/>
<path class="g" d="M1397 87A350 350 0 0 0 1270 383"/>
<path class="g" d="M1397 87A350 350 0 0 1 1448 391"/>
<path class="g" d="M1474 92A350 350 0 0 0 1428 147"/>
<path class="g" d="M1474 92A350 350 0 0 0 1389 202"/>
<path class="g" d="M1474 92A350 350 0 0 1 1499 221"/>
<path class="g" d="M1474 92A350 350 0 0 0 1445 208"/>
<path class="g" d="M1474 92A350 350 0 0 1 1492 163"/>
<path class="g" d="M1474 92A350 350 0 0 0 1385 256"/>
<path class="g" d="M1474 92A350 350 0 0 0 1389 367"/>
<path class="g" d="M1474 92A350 350 0 0 1 1448 391"/>
<path class="g" d="M1474 92A350 350 0 0 1 1503 416"/>
<path class="g" d="M1541 107A350 350 0 0 1 1604 126"/>
<path class="g" d="M1541 107A350 350 0 0 1 1552 170"/>
<path class="g" d="M1541 107A350 350 0 0 0 1499 221"/>
<path class="g" d="M1541 107A350 350 0 0 0 1492 163"/>
<path class="g" d="M1541 107A350 350 0 0 0 1445 208"/>
<path class="g" d="M1541 107A350 350 0 0 0 1389 202"/>
<path class="g" d="M1541 107A350 350 0 0 1 1503 416"/>
<path class="g" d="M1541 107A350 350 0 0 0 1389 367"/>
<path class="g" d="M1541 107A350 350 0 0 0 1448 391"/>
<path class="g" d="M1604 126A350 350 0 0 0 1552 170"/>
<path class="g" d="M1604 126A350 350 0 0 0 1499 221"/>
<path class="g w" d="M1604 126A350 350 0 0 1 1503 416"/>
<path class="g w" d="M1604 126A350 350 0 0 0 1448 391"/>
<path class="g" d="M1604 126A350 350 0 0 1 1493 363"/>
<path class="g" d="M1604 126A350 350 0 0 0 1389 367"/>
<path class="g" d="M1294 130A350 350 0 0 0 1202 258"/>
<path class="g" d="M1294 130A350 350 0 0 0 1264 199"/>
<path class="g" d="M1294 130A350 350 0 0 1 1389 202"/>
<path class="g" d="M1294 130A350 350 0 0 1 1385 256"/>
<path class="g" d="M1294 130A350 350 0 0 1 1389 367"/>
<path class="g" d="M1294 130A350 350 0 0 1 1362 413"/>
<path class="g" d="M1360 147A350 350 0 0 1 1389 202"/>
<path class="g" d="M1360 147A350 350 0 0 1 1385 256"/>
<path class="g" d="M1360 147A350 350 0 0 1 1389 367"/>
<path class="g" d="M1360 147A350 350 0 0 0 1362 413"/>
<path class="g" d="M1360 147A350 350 0 0 0 1328 206"/>
<path class="g" d="M1360 147A350 350 0 0 0 1326 265"/>
<path class="g" d="M1428 147A350 350 0 0 0 1389 202"/>
<path class="g" d="M1428 147A350 350 0 0 0 1385 256"/>
<path class="g" d="M1428 147A350 350 0 0 0 1389 367"/>
<path class="g" d="M1428 147A350 350 0 0 1 1445 208"/>
<path class="g" d="M1428 147A350 350 0 0 1 1499 221"/>
<path class="g" d="M1428 147A350 350 0 0 1 1503 416"/>
<path class="g w" d="M1389 202A350 350 0 0 1 1385 256"/>
<path class="g w" d="M1389 202A350 350 0 0 1 1389 367"/>
<path class="g" d="M1389 202A350 350 0 0 1 1503 416"/>
<path class="g" d="M1389 202A350 350 0 0 0 1326 265"/>
<path class="g" d="M1389 202A350 350 0 0 1 1499 221"/>
<path class="g" d="M1389 202A350 350 0 0 1 1445 208"/>
<path class="g" d="M1389 202A350 350 0 0 0 1362 413"/>
<path class="g" d="M1389 202A350 350 0 0 1 1448 391"/>
<path class="g" d="M1389 202A350 350 0 0 0 1330 368"/>
<path class="g" d="M1389 202A350 350 0 0 0 1328 206"/>
<path class="g" d="M1389 202A350 350 0 0 1 1412 426"/>
<path class="g" d="M1445 208A350 350 0 0 1 1499 221"/>
<path class="g" d="M1445 208A350 350 0 0 0 1389 367"/>
<path class="g" d="M1445 208A350 350 0 0 1 1503 416"/>
<path class="g" d="M1445 208A350 350 0 0 1 1448 391"/>
<path class="g" d="M1499 221A350 350 0 0 0 1389 367"/>
<path class="g w" d="M1499 221A350 350 0 0 1 1503 416"/>
<path class="g" d="M1499 221A350 350 0 0 0 1448 391"/>
<path class="g" d="M1499 221A350 350 0 0 1 1570 289"/>
<path class="g" d="M1499 221A350 350 0 0 0 1385 256"/>
<path class="g" d="M1499 221A350 350 0 0 0 1412 426"/>
<path class="g" d="M1202 258A350 350 0 0 0 1235 330"/>
<path class="g" d="M1202 258A350 350 0 0 0 1270 383"/>
<path class="g" d="M1202 258A350 350 0 0 0 1330 368"/>
<path class="g d" d="M1202 258A250 250 0 0 1 1397 87"/>
<path class="g" d="M1326 265A350 350 0 0 1 1385 256"/>
<path class="g" d="M1326 265A350 350 0 0 1 1389 367"/>
<path class="g" d="M1326 265A350 350 0 0 1 1362 413"/>
<path class="g" d="M1326 265A350 350 0 0 1 1330 368"/>
<path class="g" d="M1326 265A350 350 0 0 0 1270 383"/>
<path class="g w" d="M1385 256A350 350 0 0 1 1389 367"/>
<path class="g" d="M1385 256A350 350 0 0 1 1503 416"/>
<path class="g" d="M1385 256A350 350 0 0 0 1362 413"/>
<path class="g" d="M1385 256A350 350 0 0 1 1448 391"/>
<path class="g" d="M1385 256A350 350 0 0 0 1330 368"/>
<path class="g" d="M1385 256A350 350 0 0 1 1412 426"/>
<path class="g" d="M1385 256A350 350 0 0 1 1443 339"/>
<path class="g w" d="M1389 367A350 350 0 0 1 1503 416"/>
<path class="g" d="M1389 367A350 350 0 0 1 1412 426"/>
<path class="g w" d="M1389 367A350 350 0 0 1 1448 391"/>
<path class="g w" d="M1389 367A350 350 0 0 0 1362 413"/>
<path class="g" d="M1389 367A350 350 0 0 0 1330 368"/>
<path class="g" d="M1389 367A350 350 0 0 1 1402 307"/>
<path class="g" d="M1389 367A350 350 0 0 1 1458 447"/>
<path class="g" d="M1389 367A350 350 0 0 0 1270 383"/>
<path class="g w" d="M1503 416A350 350 0 0 0 1448 391"/>
<path class="g" d="M1503 416A350 350 0 0 0 1362 413"/>
<path class="g w" d="M1503 416A350 350 0 0 0 1570 289"/>
<path class="g" d="M1503 416A350 350 0 0 0 1412 426"/>
<path class="g" d="M1503 416A350 350 0 0 1 1617 573"/>
<path class="g" d="M1503 416A350 350 0 0 1 1671 547"/>
<path class="g" d="M1503 416A350 350 0 0 0 1458 447"/>
<path class="g" d="M1503 416A350 350 0 0 1 1504 474"/>
<path class="g" d="M1264 199A350 350 0 0 1 1389 367"/>
<path class="g" d="M1264 199A350 350 0 0 1 1385 256"/>
<path class="g" d="M1264 199A350 350 0 0 1 1362 413"/>
<path class="g" d="M1328 206A350 350 0 0 1 1389 367"/>
<path class="g" d="M1328 206A350 350 0 0 1 1362 413"/>
<path class="g" d="M1330 368A350 350 0 0 1 1389 367"/>
<path class="g" d="M1330 368A350 350 0 0 0 1362 413"/>
<path class="g" d="M1412 426A350 350 0 0 0 1448 391"/>
<path class="g" d="M1412 426A350 350 0 0 1 1458 447"/>
</g>
</g>
<g id="nodes-a">
<g id="a-ruzicka"><circle class="ny" cx="419" cy="123" r="6"/><text x="358" y="128" font-size="14" textLength="120" lengthAdjust="spacingAndGlyphs">Ruzicka, Deborah L.</text></g>
<g id="a-y2"><circle class="ny" cx="468" cy="120" r="6"/></g>
<g id="a-dillon"><circle class="ny" cx="395" cy="164" r="8"/><circle class="ny" cx="452" cy="163" r="7"/><text x="404" y="168" font-size="14" textLength="94" lengthAdjust="spacingAndGlyphs">Dillon, James E.</text></g>
<g id="a-y5"><circle class="ny" cx="506" cy="161" r="5"/></g>
<g id="a-y7"><circle class="ny" cx="437" cy="210" r="7"/></g>
<g id="a-y9"><circle class="ny" cx="495" cy="210" r="8"/></g>
<g id="a-y8"><circle class="ny" cx="405" cy="243" r="9"/></g>
<g id="a-narang"><circle class="nr" cx="211" cy="178" r="7"/><text x="171" y="183" font-size="13" textLength="84" lengthAdjust="spacingAndGlyphs">Narang, Indra</text></g>
<g id="a-r2"><circle class="nr" cx="267" cy="228" r="8"/></g>
<g id="a-r3"><circle class="nr" cx="311" cy="215" r="6"/></g>
<g id="a-chervin"><circle class="ny" cx="373" cy="223" r="13"/><text x="300" y="229" font-size="18" textLength="145" lengthAdjust="spacingAndGlyphs">Chervin, Ronald D.</text></g>
<g id="a-giordani"><circle class="ny" cx="467" cy="252" r="4"/><text x="423" y="256" font-size="12.5" textLength="88" lengthAdjust="spacingAndGlyphs">Giordani, Bruno</text></g>
<g id="a-r4"><circle class="nr" cx="342" cy="259" r="7"/></g>
<g id="a-baldassari"><circle class="nr" cx="247" cy="274" r="5"/><circle class="nr" cx="292" cy="273" r="6"/><text x="182" y="278" font-size="12.5" textLength="123" lengthAdjust="spacingAndGlyphs">Baldassari, Cristina M.</text></g>
<g id="a-amin"><circle class="nr" cx="382" cy="279" r="8"/><text x="343" y="283" font-size="14" textLength="77" lengthAdjust="spacingAndGlyphs">Amin, Raouf</text></g>
<g id="a-r8"><circle class="nr" cx="432" cy="277" r="8"/></g>
<g id="a-r9"><circle class="nr" cx="334" cy="302" r="6"/></g>
<g id="a-r13"><circle class="nr" cx="468" cy="313" r="6"/></g>
<g id="a-tapia"><circle class="nr" cx="265" cy="318" r="8"/><text x="215" y="322" font-size="13" textLength="98" lengthAdjust="spacingAndGlyphs">Tapia, Ignacio E.</text></g>
<g id="a-redline"><circle class="nr" cx="377" cy="318" r="9"/><circle class="nr" cx="428" cy="319" r="7"/><text x="328" y="322" font-size="14" textLength="97" lengthAdjust="spacingAndGlyphs">Redline, Susan</text></g>
<g id="a-wangrui"><circle class="nr" cx="303" cy="341" r="6"/><text x="276" y="346" font-size="11.5" textLength="54" lengthAdjust="spacingAndGlyphs">Wang, Rui</text></g>
<g id="a-marcus"><circle class="nr" cx="347" cy="343" r="8"/><circle class="nr" cx="396" cy="352" r="10"/><text x="338" y="355" font-size="14" textLength="114" lengthAdjust="spacingAndGlyphs">Marcus, Carole L.</text></g>
<g id="a-r17"><circle class="nr" cx="442" cy="362" r="6"/></g>
<g id="a-katz"><circle class="nr" cx="390" cy="388" r="7"/><text x="353" y="392" font-size="13" textLength="73" lengthAdjust="spacingAndGlyphs">Katz, Eliot S.</text></g>
<g id="a-p1"><circle class="np" cx="103" cy="420" r="8"/></g>
<g id="a-p2"><circle class="np" cx="152" cy="417" r="6"/></g>
<g id="a-nixon"><circle class="np" cx="202" cy="436" r="10"/><text x="149" y="440" font-size="15" textLength="109" lengthAdjust="spacingAndGlyphs">Nixon, Gillian M.</text></g>
<g id="a-horne"><circle class="np" cx="88" cy="467" r="9"/><circle class="np" cx="144" cy="467" r="10"/><text x="70" y="472" font-size="15" textLength="148" lengthAdjust="spacingAndGlyphs">Horne, Rosemary S. C.</text></g>
<g id="a-jackman"><circle class="np" cx="193" cy="493" r="5"/><text x="138" y="497" font-size="12" textLength="105" lengthAdjust="spacingAndGlyphs">Jackman, Angela R.</text></g>
<g id="a-p7"><circle class="np" cx="108" cy="509" r="6"/></g>
<g id="a-biggs"><circle class="np" cx="153" cy="526" r="6"/><text x="108" y="530" font-size="14" textLength="93" lengthAdjust="spacingAndGlyphs">Biggs, Sarah N.</text></g>
<g id="a-s1"><circle class="ns" cx="321" cy="463" r="6"/></g>
<g id="a-nosetti"><circle class="ns" cx="382" cy="483" r="5"/><text x="337" y="488" font-size="14" textLength="89" lengthAdjust="spacingAndGlyphs">Nosetti, Luana</text></g>
<g id="a-zaffanello"><circle class="ns" cx="338" cy="516" r="5"/><text x="286" y="520" font-size="14" textLength="106" lengthAdjust="spacingAndGlyphs">Zaffanello, Marco</text></g>
<g id="a-b1"><circle class="nb" cx="589" cy="235" r="5"/></g>
<g id="a-hunter"><circle class="nb" cx="637" cy="246" r="5"/><text x="593" y="250" font-size="12" textLength="83" lengthAdjust="spacingAndGlyphs">Hunter, Scott J.</text></g>
<g id="a-kim"><circle class="nb" cx="679" cy="273" r="6"/><text x="643" y="277" font-size="12" textLength="71" lengthAdjust="spacingAndGlyphs">Kim, Jinkwan</text></g>
<g id="a-philby"><circle class="nb" cx="564" cy="277" r="5"/><text x="521" y="281" font-size="12" textLength="83" lengthAdjust="spacingAndGlyphs">Philby, Mona F.</text></g>
<g id="a-bhattacharjee"><circle class="nb" cx="613" cy="299" r="5"/><text x="548" y="304" font-size="12" textLength="125" lengthAdjust="spacingAndGlyphs">Bhattacharjee, Rakesh</text></g>
<g id="a-b6"><circle class="nb" cx="526" cy="328" r="6"/></g>
<g id="a-b7"><circle class="nb" cx="681" cy="322" r="6"/></g>
<g id="a-gozal"><circle class="nb" cx="583" cy="352" r="22"/><circle class="nb" cx="624" cy="358" r="17"/><text x="525" y="361" font-size="22" textLength="118" lengthAdjust="spacingAndGlyphs">Gozal, David</text></g>
<g id="a-b10"><circle class="nb" cx="560" cy="399" r="6"/></g>
<g id="a-rosen"><circle class="nb" cx="607" cy="432" r="5"/><text x="567" y="435" font-size="12" textLength="78" lengthAdjust="spacingAndGlyphs">Rosen, Dennis</text></g>
<g id="a-o1"><circle class="no" cx="697" cy="373" r="9"/></g>
<g id="a-o2"><circle class="no" cx="720" cy="414" r="8"/></g>
<g id="a-delcampo"><circle class="no" cx="657" cy="410" r="5"/><text x="606" y="415" font-size="14" textLength="101" lengthAdjust="spacingAndGlyphs">Del Campo, Felix</text></g>
<g id="a-o5"><circle class="no" cx="689" cy="455" r="6"/></g>
<g id="a-alvarez"><circle class="no" cx="645" cy="469" r="7"/><text x="600" y="474" font-size="14" textLength="90" lengthAdjust="spacingAndGlyphs">Alvarez, Daniel</text></g>
<g id="a-bruni"><circle class="nc" cx="503" cy="405" r="7"/><text x="458" y="410" font-size="13" textLength="89" lengthAdjust="spacingAndGlyphs">Bruni, Oliviero</text></g>
<g id="a-ferri"><circle class="nc" cx="475" cy="441" r="8"/><text x="432" y="445" font-size="13" textLength="85" lengthAdjust="spacingAndGlyphs">Ferri, Raffaele</text></g>
<g id="a-c3"><circle class="nc" cx="526" cy="452" r="7"/></g>
<g id="a-c4"><circle class="nc" cx="567" cy="468" r="6"/></g>
<g id="a-brockmann"><circle class="nc" cx="507" cy="504" r="6"/><text x="450" y="510" font-size="12.5" textLength="115" lengthAdjust="spacingAndGlyphs">Brockmann, Pablo E.</text></g>
<g id="a-poets"><circle class="nc" cx="478" cy="563" r="5"/><circle class="nc" cx="533" cy="566" r="5"/><text x="427" y="567" font-size="12" textLength="99" lengthAdjust="spacingAndGlyphs">Poets, Christian F.</text></g>
<g id="a-cai"><circle class="ng" cx="868" cy="190" r="8"/><text x="825" y="194" font-size="13.5" textLength="84" lengthAdjust="spacingAndGlyphs">Cai, Xiaohong</text></g>
<g id="a-wangwei"><circle class="ng" cx="844" cy="237" r="5"/><text x="816" y="241" font-size="12" textLength="58" lengthAdjust="spacingAndGlyphs">Wang, Wei</text></g>
<g id="a-wangchangming"><circle class="ng" cx="814" cy="282" r="6"/><text x="763" y="287" font-size="12.5" textLength="102" lengthAdjust="spacingAndGlyphs">Wang, Changming</text></g>
<g id="a-wu"><circle class="ng" cx="772" cy="311" r="8"/><text x="732" y="316" font-size="13" textLength="76" lengthAdjust="spacingAndGlyphs">Wu, Yunxiao</text></g>
<g id="a-zheng"><circle class="ng" cx="872" cy="319" r="6"/><text x="844" y="324" font-size="13" textLength="55" lengthAdjust="spacingAndGlyphs">Zheng, Li</text></g>
<g id="a-lixiaodan"><circle class="ng" cx="913" cy="340" r="7"/><text x="879" y="344" font-size="12" textLength="65" lengthAdjust="spacingAndGlyphs">Li, Xiaodan</text></g>
<g id="a-xu"><circle class="ng" cx="826" cy="350" r="10"/><text x="795" y="354" font-size="15" textLength="62" lengthAdjust="spacingAndGlyphs">Xu, Zhifei</text></g>
<g id="a-tai"><circle class="ng" cx="953" cy="365" r="8"/><text x="930" y="369" font-size="15" textLength="47" lengthAdjust="spacingAndGlyphs">Tai, Jun</text></g>
<g id="a-g9"><circle class="ng" cx="869" cy="377" r="7"/></g>
<g id="a-mei"><circle class="ng" cx="917" cy="390" r="7"/><text x="894" y="396" font-size="14" textLength="46" lengthAdjust="spacingAndGlyphs">Mei, Lin</text></g>
<g id="a-ni"><circle class="ng" cx="819" cy="394" r="10"/><text x="799" y="399" font-size="15" textLength="41" lengthAdjust="spacingAndGlyphs">Ni, Xin</text></g>
<g id="a-lihongbin"><circle class="ng" cx="958" cy="412" r="6"/><text x="923" y="418" font-size="13.5" textLength="69" lengthAdjust="spacingAndGlyphs">Li, Hongbin</text></g>
<g id="a-g13"><circle class="ng" cx="888" cy="423" r="7"/></g>
<g id="a-ji"><circle class="ng" cx="847" cy="440" r="6"/><text x="813" y="444" font-size="14" textLength="65" lengthAdjust="spacingAndGlyphs">Ji, Tingting</text></g>
<g id="a-g15"><circle class="ng" cx="933" cy="453" r="6"/></g>
<g id="a-liu"><circle class="ng" cx="888" cy="470" r="5"/><text x="863" y="475" font-size="13.5" textLength="49" lengthAdjust="spacingAndGlyphs">Liu, Yue</text></g>
</g>
<g id="nodes-b">
<g id="b-biggs"><circle class="ng" cx="1397" cy="87" r="7"/><text x="1373" y="92" font-size="12.5" textLength="50" lengthAdjust="spacingAndGlyphs">Biggs, Sn</text></g>
<g id="b-giordani"><circle class="ng" cx="1474" cy="92" r="5"/><text x="1447" y="96" font-size="11.5" textLength="56" lengthAdjust="spacingAndGlyphs">Giordani, B</text></g>
<g id="b-macey"><circle class="ng" cx="1541" cy="107" r="6"/><text x="1513" y="111" font-size="11.5" textLength="55" lengthAdjust="spacingAndGlyphs">Macey, Pm</text></g>
<g id="b-halbower"><circle class="ng" cx="1604" cy="126" r="7"/><text x="1568" y="130" font-size="12.5" textLength="72" lengthAdjust="spacingAndGlyphs">Halbower, Ac</text></g>
<g id="b-walter"><circle class="ng" cx="1294" cy="130" r="5"/><text x="1266" y="133" font-size="11.5" textLength="54" lengthAdjust="spacingAndGlyphs">Walter, Lm</text></g>
<g id="b-hunter"><circle class="ng" cx="1360" cy="147" r="5"/><text x="1337" y="151" font-size="11.5" textLength="50" lengthAdjust="spacingAndGlyphs">Hunter, Sj</text></g>
<g id="b-bourke"><circle class="ng" cx="1428" cy="147" r="5"/><text x="1406" y="151" font-size="11.5" textLength="49" lengthAdjust="spacingAndGlyphs">Bourke, R</text></g>
<g id="b-g8"><circle class="ng" cx="1492" cy="163" r="5"/></g>
<g id="b-achenbach"><circle class="ng" cx="1552" cy="170" r="5"/><text x="1512" y="174" font-size="11.5" textLength="78" lengthAdjust="spacingAndGlyphs">Achenbach, Tm</text></g>
<g id="b-isaiah"><circle class="ng" cx="1264" cy="199" r="5"/><text x="1243" y="203" font-size="11.5" textLength="42" lengthAdjust="spacingAndGlyphs">Isaiah, A</text></g>
<g id="b-franco"><circle class="ng" cx="1328" cy="206" r="5"/><text x="1302" y="210" font-size="11.5" textLength="51" lengthAdjust="spacingAndGlyphs">Franco, Ra</text></g>
<g id="b-berry"><circle class="ng" cx="1389" cy="202" r="9"/><text x="1363" y="207" font-size="14" textLength="55" lengthAdjust="spacingAndGlyphs">Berry, Rb</text></g>
<g id="b-g13"><circle class="ng" cx="1445" cy="208" r="6"/></g>
<g id="b-friedmanbc"><circle class="ng" cx="1499" cy="221" r="6"/><text x="1466" y="226" font-size="12" textLength="66" lengthAdjust="spacingAndGlyphs">Friedman, Bc</text></g>
<g id="b-kang"><circle class="ng" cx="1202" cy="258" r="5"/><text x="1180" y="262" font-size="11.5" textLength="42" lengthAdjust="spacingAndGlyphs">Kang, Kt</text></g>
<g id="b-g16"><circle class="ng" cx="1326" cy="265" r="7"/></g>
<g id="b-brockmann"><circle class="ng" cx="1385" cy="256" r="7"/><text x="1343" y="261" font-size="12.5" textLength="85" lengthAdjust="spacingAndGlyphs">Brockmann, Pe</text></g>
<g id="b-gislason"><circle class="ny" cx="1671" cy="157" r="7"/><text x="1640" y="162" font-size="13" textLength="62" lengthAdjust="spacingAndGlyphs">Gislason, T</text></g>
<g id="b-rosen"><circle class="ny" cx="1604" cy="196" r="10"/><text x="1577" y="200" font-size="14" textLength="55" lengthAdjust="spacingAndGlyphs">Rosen, Cl</text></g>
<g id="b-rechtschaffen"><circle class="nr" cx="1729" cy="204" r="5"/><text x="1687" y="208" font-size="11.5" textLength="85" lengthAdjust="spacingAndGlyphs">Rechtschaffen, A</text></g>
<g id="b-r3"><circle class="nr" cx="1668" cy="215" r="6"/></g>
<g id="b-r4"><circle class="nr" cx="1556" cy="232" r="4"/></g>
<g id="b-gruber"><circle class="nr" cx="1791" cy="232" r="5"/><text x="1768" y="236" font-size="11.5" textLength="48" lengthAdjust="spacingAndGlyphs">Gruber, R</text></g>
<g id="b-miano"><circle class="nr" cx="1613" cy="252" r="6"/><text x="1588" y="256" font-size="12.5" textLength="49" lengthAdjust="spacingAndGlyphs">Miano, S</text></g>
<g id="b-r7"><circle class="nr" cx="1446" cy="266" r="7"/></g>
<g id="b-y3"><circle class="ny" cx="1513" cy="273" r="4"/></g>
<g id="b-y4"><circle class="ny" cx="1664" cy="273" r="5"/></g>
<g id="b-mindell"><circle class="nr" cx="1723" cy="275" r="6"/><text x="1693" y="279" font-size="12.5" textLength="59" lengthAdjust="spacingAndGlyphs">Mindell, Ja</text></g>
<g id="b-villa"><circle class="nb" cx="1265" cy="267" r="7"/><text x="1239" y="272" font-size="12.5" textLength="48" lengthAdjust="spacingAndGlyphs">Villa, Mp</text></g>
<g id="b-chervin"><circle class="nr" cx="1570" cy="289" r="19"/><text x="1525" y="295" font-size="19" textLength="93" lengthAdjust="spacingAndGlyphs">Chervin, Rd</text></g>
<g id="b-malow"><circle class="nr" cx="1776" cy="302" r="4"/><text x="1751" y="305" font-size="11.5" textLength="51" lengthAdjust="spacingAndGlyphs">Malow, Ba</text></g>
<g id="b-walters"><circle class="nr" cx="1855" cy="307" r="5"/><text x="1826" y="311" font-size="11.5" textLength="57" lengthAdjust="spacingAndGlyphs">Walters, As</text></g>
<g id="b-y5"><circle class="ny" cx="1622" cy="311" r="6"/></g>
<g id="b-liam"><circle class="nb" cx="1402" cy="307" r="8"/><text x="1385" y="312" font-size="13" textLength="33" lengthAdjust="spacingAndGlyphs">Li, Am</text></g>
<g id="b-nieminen"><circle class="ny" cx="1482" cy="309" r="5"/><text x="1452" y="313" font-size="11.5" textLength="60" lengthAdjust="spacingAndGlyphs">Nieminen, P</text></g>
<g id="b-brodsky"><circle class="ng" cx="1301" cy="319" r="3"/><text x="1269" y="324" font-size="11.5" textLength="53" lengthAdjust="spacingAndGlyphs">Brodsky, L</text></g>
<g id="b-y7"><circle class="ny" cx="1351" cy="319" r="5"/></g>
<g id="b-katz"><circle class="nb" cx="1235" cy="330" r="7"/><text x="1212" y="335" font-size="12.5" textLength="43" lengthAdjust="spacingAndGlyphs">Katz, Es</text></g>
<g id="b-obrien"><circle class="np" cx="1535" cy="329" r="13"/><text x="1492" y="334" font-size="17" textLength="83" lengthAdjust="spacingAndGlyphs">O'Brien, Lm</text></g>
<g id="b-iber"><circle class="nr" cx="1443" cy="339" r="6"/><text x="1425" y="342" font-size="12" textLength="35" lengthAdjust="spacingAndGlyphs">Iber, C</text></g>
<g id="b-bruni"><circle class="nr" cx="1683" cy="327" r="6"/><text x="1660" y="330" font-size="12.5" textLength="45" lengthAdjust="spacingAndGlyphs">Bruni, O</text></g>
<g id="b-owensj"><circle class="nr" cx="1739" cy="348" r="6"/><text x="1715" y="353" font-size="12.5" textLength="48" lengthAdjust="spacingAndGlyphs">Owens, J</text></g>
<g id="b-r14"><circle class="nr" cx="1584" cy="348" r="5"/></g>
<g id="b-verhulst"><circle class="nb" cx="1170" cy="348" r="6"/><text x="1141" y="352" font-size="11.5" textLength="56" lengthAdjust="spacingAndGlyphs">Verhulst, Sl</text></g>
<g id="b-mitchell"><circle class="ng" cx="1389" cy="367" r="11"/><circle class="ng" cx="1330" cy="368" r="7"/><text x="1353" y="370" font-size="14.5" textLength="76" lengthAdjust="spacingAndGlyphs">Mitchell, Rb</text></g>
<g id="b-redline"><circle class="ny" cx="1493" cy="363" r="10"/><text x="1463" y="369" font-size="14.5" textLength="64" lengthAdjust="spacingAndGlyphs">Redline, S</text></g>
<g id="b-esposito"><circle class="nr" cx="1645" cy="364" r="3"/><text x="1612" y="368" font-size="11.5" textLength="58" lengthAdjust="spacingAndGlyphs">Esposito, M</text></g>
<g id="b-picchietti"><circle class="nr" cx="1817" cy="375" r="6"/><text x="1782" y="379" font-size="12.5" textLength="68" lengthAdjust="spacingAndGlyphs">Picchietti, Dl</text></g>
<g id="b-kheirandish"><circle class="nb" cx="1270" cy="383" r="10"/><text x="1203" y="388" font-size="15.5" textLength="137" lengthAdjust="spacingAndGlyphs">Kheirandish-Gozal, L</text></g>
<g id="b-young"><circle class="nr" cx="1546" cy="388" r="6"/><text x="1522" y="392" font-size="12.5" textLength="47" lengthAdjust="spacingAndGlyphs">Young, T</text></g>
<g id="b-crabtree"><circle class="nr" cx="1700" cy="389" r="3"/><text x="1663" y="393" font-size="11.5" textLength="65" lengthAdjust="spacingAndGlyphs">Crabtree, Vm</text></g>
<g id="b-marcus"><circle class="ny" cx="1448" cy="391" r="22"/><text x="1402" y="399" font-size="21" textLength="95" lengthAdjust="spacingAndGlyphs">Marcus, Cl</text></g>
<g id="b-brietzke"><circle class="nb" cx="1208" cy="401" r="4"/><text x="1178" y="404" font-size="11" textLength="59" lengthAdjust="spacingAndGlyphs">Brietzke, Se</text></g>
<g id="b-r17"><circle class="nr" cx="1596" cy="402" r="6"/></g>
<g id="b-cortese"><circle class="nr" cx="1760" cy="404" r="6"/><text x="1732" y="409" font-size="12.5" textLength="56" lengthAdjust="spacingAndGlyphs">Cortese, S</text></g>
<g id="b-dahl"><circle class="nr" cx="1875" cy="411" r="5"/><text x="1853" y="415" font-size="11.5" textLength="42" lengthAdjust="spacingAndGlyphs">Dahl, Re</text></g>
<g id="b-gozal"><circle class="nb" cx="1362" cy="413" r="22"/><text x="1328" y="421" font-size="20" textLength="71" lengthAdjust="spacingAndGlyphs">Gozal, D</text></g>
<g id="b-g21"><circle class="ng" cx="1503" cy="416" r="14"/></g>
<g id="b-g22"><circle class="ng" cx="1412" cy="426" r="9"/></g>
<g id="b-b8"><circle class="nb" cx="1303" cy="429" r="6"/></g>
<g id="b-johns"><circle class="nr" cx="1649" cy="426" r="5"/><text x="1623" y="429" font-size="11.5" textLength="52" lengthAdjust="spacingAndGlyphs">Johns, Mw</text></g>
<g id="b-goldstein"><circle class="ny" cx="1557" cy="443" r="5"/><text x="1519" y="447" font-size="13" textLength="76" lengthAdjust="spacingAndGlyphs">Goldstein, Na</text></g>
<g id="b-owensja"><circle class="nr" cx="1709" cy="443" r="9"/><text x="1681" y="447" font-size="14" textLength="58" lengthAdjust="spacingAndGlyphs">Owens, Ja</text></g>
<g id="b-kennedy"><circle class="ng" cx="1458" cy="447" r="5"/><text x="1428" y="451" font-size="11.5" textLength="58" lengthAdjust="spacingAndGlyphs">Kennedy, Jd</text></g>
<g id="b-tan"><circle class="nb" cx="1243" cy="452" r="5"/><text x="1227" y="456" font-size="11" textLength="35" lengthAdjust="spacingAndGlyphs">Tan, Hl</text></g>
<g id="b-aminr"><circle class="nb" cx="1175" cy="463" r="4"/><text x="1156" y="467" font-size="11.5" textLength="40" lengthAdjust="spacingAndGlyphs">Amin, R</text></g>
<g id="b-bonnet"><circle class="ny" cx="1610" cy="461" r="3"/><text x="1580" y="465" font-size="12" textLength="58" lengthAdjust="spacingAndGlyphs">Bonnet, Mh</text></g>
<g id="b-rhodes"><circle class="nr" cx="1775" cy="465" r="3"/><text x="1747" y="469" font-size="11.5" textLength="55" lengthAdjust="spacingAndGlyphs">Rhodes, Sk</text></g>
<g id="b-friedmanm"><circle class="nb" cx="1352" cy="467" r="5"/><text x="1319" y="471" font-size="11.5" textLength="64" lengthAdjust="spacingAndGlyphs">Friedman, M</text></g>
<g id="b-spruyt"><circle class="nb" cx="1504" cy="474" r="6"/><text x="1481" y="477" font-size="13" textLength="51" lengthAdjust="spacingAndGlyphs">Spruyt, K</text></g>
<g id="b-r30"><circle class="nr" cx="1407" cy="482" r="5"/></g>
<g id="b-corkum"><circle class="nr" cx="1843" cy="479" r="6"/><text x="1817" y="483" font-size="11.5" textLength="53" lengthAdjust="spacingAndGlyphs">Corkum, P</text></g>
<g id="b-conners"><circle class="nr" cx="1665" cy="483" r="5"/><text x="1635" y="487" font-size="11.5" textLength="61" lengthAdjust="spacingAndGlyphs">Conners, Ck</text></g>
<g id="b-bhattacharjee"><circle class="nb" cx="1292" cy="492" r="6"/><text x="1247" y="495" font-size="13" textLength="91" lengthAdjust="spacingAndGlyphs">Bhattacharjee, R</text></g>
<g id="b-r24"><circle class="nr" cx="1555" cy="498" r="5"/></g>
<g id="b-montgomery"><circle class="np" cx="1459" cy="506" r="9"/><text x="1384" y="512" font-size="15.5" textLength="150" lengthAdjust="spacingAndGlyphs">Montgomery-Downs, He</text></g>
<g id="b-sadeh"><circle class="nr" cx="1726" cy="507" r="6"/><text x="1701" y="511" font-size="13" textLength="48" lengthAdjust="spacingAndGlyphs">Sadeh, A</text></g>
<g id="b-gottlieb"><circle class="nr" cx="1609" cy="518" r="8"/><text x="1576" y="522" font-size="14" textLength="67" lengthAdjust="spacingAndGlyphs">Gottlieb, Dj</text></g>
<g id="b-kimj"><circle class="nb" cx="1228" cy="523" r="4"/><text x="1215" y="527" font-size="11.5" textLength="27" lengthAdjust="spacingAndGlyphs">Kim, J</text></g>
<g id="b-bonuck"><circle class="nb" cx="1352" cy="524" r="3"/><text x="1324" y="528" font-size="12" textLength="56" lengthAdjust="spacingAndGlyphs">Bonuck, Ka</text></g>
<g id="b-brooks"><circle class="ny" cx="1510" cy="533" r="3"/><text x="1487" y="537" font-size="11.5" textLength="48" lengthAdjust="spacingAndGlyphs">Brooks, Lj</text></g>
<g id="b-p3"><circle class="np" cx="1411" cy="545" r="6"/></g>
<g id="b-carskadon"><circle class="nr" cx="1790" cy="544" r="6"/><text x="1748" y="548" font-size="13" textLength="83" lengthAdjust="spacingAndGlyphs">Carskadon, Ma</text></g>
<g id="b-ali"><circle class="ny" cx="1671" cy="547" r="9"/><text x="1653" y="553" font-size="16" textLength="39" lengthAdjust="spacingAndGlyphs">Ali, Nj</text></g>
<g id="b-kaditis"><circle class="nb" cx="1294" cy="554" r="8"/><text x="1263" y="558" font-size="14.5" textLength="62" lengthAdjust="spacingAndGlyphs">Kaditis, Ag</text></g>
<g id="b-goodwin"><circle class="ny" cx="1465" cy="563" r="4"/><text x="1434" y="568" font-size="12.5" textLength="62" lengthAdjust="spacingAndGlyphs">Goodwin, Jl</text></g>
<g id="b-guilleminault"><circle class="ny" cx="1555" cy="568" r="9"/><circle class="ny" cx="1617" cy="573" r="17"/><text x="1557" y="579" font-size="19" textLength="121" lengthAdjust="spacingAndGlyphs">Guilleminault, C</text></g>
<g id="b-ohayon"><circle class="nr" cx="1727" cy="579" r="4"/><text x="1694" y="584" font-size="12.5" textLength="66" lengthAdjust="spacingAndGlyphs">Ohayon, Mm</text></g>
<g id="b-khalyfa"><circle class="nb" cx="1221" cy="591" r="4"/><text x="1197" y="595" font-size="11.5" textLength="49" lengthAdjust="spacingAndGlyphs">Khalyfa, A</text></g>
<g id="b-tauman"><circle class="nb" cx="1357" cy="591" r="8"/><text x="1324" y="593" font-size="14.5" textLength="65" lengthAdjust="spacingAndGlyphs">Tauman, R</text></g>
<g id="b-b18"><circle class="nb" cx="1425" cy="608" r="6"/></g>
<g id="b-brouillette"><circle class="ny" cx="1503" cy="610" r="8"/><text x="1463" y="614" font-size="14.5" textLength="84" lengthAdjust="spacingAndGlyphs">Brouillette, Rt</text></g>
<g id="b-carroll"><circle class="ny" cx="1588" cy="627" r="6"/><text x="1565" y="631" font-size="13" textLength="48" lengthAdjust="spacingAndGlyphs">Carroll, Jl</text></g>
<g id="b-stradling"><circle class="ny" cx="1662" cy="628" r="3"/><text x="1634" y="632" font-size="11.5" textLength="58" lengthAdjust="spacingAndGlyphs">Stradling, Jr</text></g>
<g id="b-goldbart"><circle class="nb" cx="1299" cy="631" r="7"/><text x="1264" y="636" font-size="13" textLength="71" lengthAdjust="spacingAndGlyphs">Goldbart, Ad</text></g>
<g id="b-aminrs"><circle class="nb" cx="1382" cy="661" r="6"/><text x="1357" y="663" font-size="12.5" textLength="48" lengthAdjust="spacingAndGlyphs">Amin, Rs</text></g>
<g id="b-arens"><circle class="nb" cx="1458" cy="667" r="6"/><text x="1436" y="671" font-size="12.5" textLength="47" lengthAdjust="spacingAndGlyphs">Arens, R</text></g>
<g id="b-vgontzas"><circle class="nr" cx="1538" cy="667" r="4"/><text x="1506" y="671" font-size="11.5" textLength="66" lengthAdjust="spacingAndGlyphs">Vgontzas, An</text></g>
</g>
</svg>
